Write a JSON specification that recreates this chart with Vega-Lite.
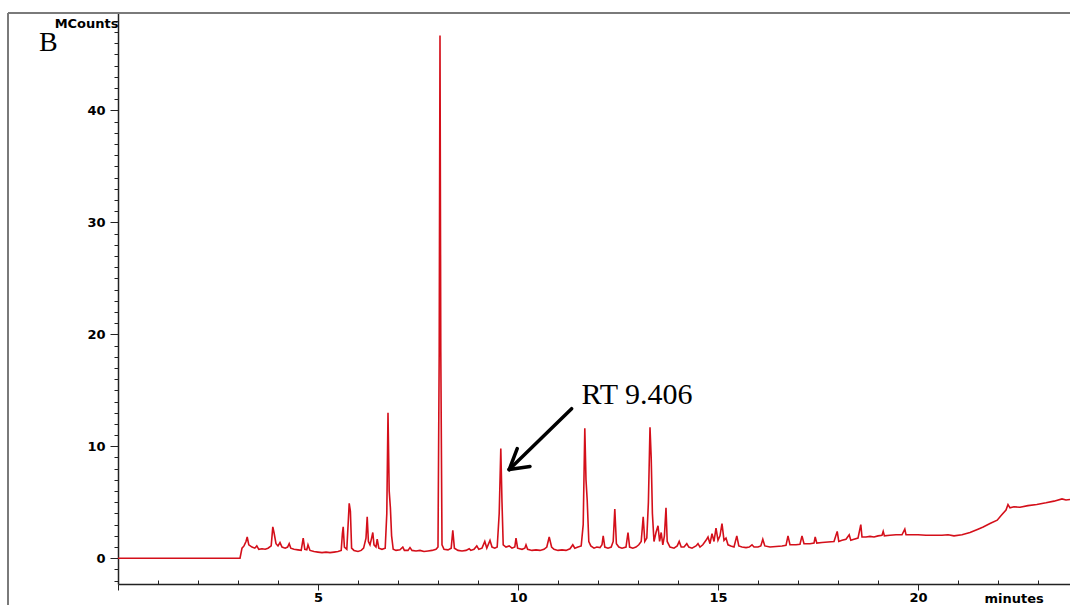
{
 "$schema": "https://vega.github.io/schema/vega-lite/v6.json",
 "width": 952, "height": 571,
 "autosize": {"type": "none"},
 "padding": {"left": 118, "top": 13, "right": 0, "bottom": 21},
 "background": "white",
 "config": {"view": {"stroke": null}, "font": "DejaVu Sans"},
 "datasets": {
  "trace": [
   {"t":0,"v":0},{"t":3.05,"v":0},{"t":3.1,"v":0.9},{"t":3.15,"v":1.1},{"t":3.2,"v":1.5},{"t":3.23,"v":1.9},{"t":3.27,"v":1.2},{"t":3.35,"v":1.0},{"t":3.42,"v":0.9},{"t":3.47,"v":1.1},{"t":3.52,"v":0.8},{"t":3.6,"v":0.85},{"t":3.68,"v":0.8},{"t":3.75,"v":0.9},{"t":3.83,"v":1.1},{"t":3.87,"v":2.8},{"t":3.9,"v":2.3},{"t":3.95,"v":1.3},{"t":4.0,"v":1.1},{"t":4.05,"v":1.4},{"t":4.1,"v":1.0},{"t":4.18,"v":0.9},{"t":4.24,"v":1.0},{"t":4.28,"v":1.3},{"t":4.32,"v":0.9},{"t":4.4,"v":0.8},{"t":4.5,"v":0.75},{"t":4.58,"v":0.7},{"t":4.63,"v":1.8},{"t":4.67,"v":0.8},{"t":4.72,"v":0.75},{"t":4.75,"v":1.2},{"t":4.8,"v":0.7},{"t":4.9,"v":0.6},{"t":5.0,"v":0.55},{"t":5.1,"v":0.5},{"t":5.2,"v":0.55},{"t":5.3,"v":0.5},{"t":5.4,"v":0.55},{"t":5.5,"v":0.6},{"t":5.58,"v":0.7},{"t":5.61,"v":2.2},{"t":5.63,"v":2.8},{"t":5.66,"v":1.0},{"t":5.72,"v":0.8},{"t":5.76,"v":3.5},{"t":5.78,"v":4.9},{"t":5.81,"v":4.2},{"t":5.84,"v":0.9},{"t":5.9,"v":0.7},{"t":6.0,"v":0.6},{"t":6.08,"v":0.7},{"t":6.14,"v":0.9},{"t":6.2,"v":1.8},{"t":6.23,"v":3.7},{"t":6.26,"v":1.5},{"t":6.3,"v":1.2},{"t":6.34,"v":1.8},{"t":6.37,"v":2.3},{"t":6.4,"v":1.2},{"t":6.45,"v":1.0},{"t":6.48,"v":1.7},{"t":6.52,"v":0.9},{"t":6.6,"v":0.8},{"t":6.68,"v":0.9},{"t":6.72,"v":4.0},{"t":6.75,"v":13.0},{"t":6.78,"v":6.0},{"t":6.81,"v":4.5},{"t":6.84,"v":2.0},{"t":6.88,"v":0.8},{"t":6.95,"v":0.7},{"t":7.05,"v":0.75},{"t":7.12,"v":1.0},{"t":7.16,"v":0.7},{"t":7.25,"v":0.7},{"t":7.3,"v":0.95},{"t":7.35,"v":0.7},{"t":7.45,"v":0.65},{"t":7.55,"v":0.7},{"t":7.65,"v":0.6},{"t":7.75,"v":0.65},{"t":7.85,"v":0.7},{"t":7.95,"v":0.8},{"t":8.0,"v":1.0},{"t":8.03,"v":18.4},{"t":8.05,"v":46.7},{"t":8.07,"v":18.4},{"t":8.1,"v":1.2},{"t":8.15,"v":0.8},{"t":8.25,"v":0.75},{"t":8.33,"v":0.9},{"t":8.37,"v":2.5},{"t":8.41,"v":0.9},{"t":8.5,"v":0.7},{"t":8.6,"v":0.65},{"t":8.7,"v":0.7},{"t":8.78,"v":0.85},{"t":8.82,"v":0.7},{"t":8.9,"v":0.8},{"t":8.97,"v":1.1},{"t":9.02,"v":0.8},{"t":9.1,"v":0.9},{"t":9.17,"v":1.5},{"t":9.22,"v":0.9},{"t":9.3,"v":1.6},{"t":9.35,"v":1.0},{"t":9.42,"v":0.9},{"t":9.48,"v":1.0},{"t":9.53,"v":4.0},{"t":9.57,"v":9.8},{"t":9.6,"v":5.0},{"t":9.63,"v":1.2},{"t":9.7,"v":1.0},{"t":9.78,"v":1.1},{"t":9.85,"v":0.9},{"t":9.92,"v":1.0},{"t":9.95,"v":1.8},{"t":9.99,"v":0.9},{"t":10.1,"v":0.8},{"t":10.17,"v":0.9},{"t":10.2,"v":1.2},{"t":10.24,"v":0.8},{"t":10.35,"v":0.7},{"t":10.45,"v":0.75},{"t":10.55,"v":0.7},{"t":10.65,"v":0.8},{"t":10.72,"v":1.0},{"t":10.78,"v":1.9},{"t":10.84,"v":1.0},{"t":10.9,"v":0.8},{"t":11.0,"v":0.7},{"t":11.1,"v":0.75},{"t":11.2,"v":0.7},{"t":11.3,"v":0.85},{"t":11.37,"v":1.2},{"t":11.42,"v":0.9},{"t":11.5,"v":1.0},{"t":11.58,"v":1.1},{"t":11.63,"v":3.0},{"t":11.67,"v":11.6},{"t":11.7,"v":7.0},{"t":11.73,"v":5.2},{"t":11.77,"v":1.5},{"t":11.82,"v":1.1},{"t":11.9,"v":0.9},{"t":11.97,"v":1.0},{"t":12.05,"v":0.95},{"t":12.1,"v":1.2},{"t":12.13,"v":2.0},{"t":12.17,"v":1.0},{"t":12.25,"v":0.9},{"t":12.33,"v":1.0},{"t":12.38,"v":1.5},{"t":12.42,"v":4.4},{"t":12.46,"v":1.3},{"t":12.52,"v":1.0},{"t":12.6,"v":0.9},{"t":12.7,"v":1.0},{"t":12.75,"v":2.3},{"t":12.79,"v":1.0},{"t":12.87,"v":0.9},{"t":12.95,"v":1.0},{"t":13.02,"v":1.2},{"t":13.08,"v":1.5},{"t":13.13,"v":3.7},{"t":13.17,"v":1.5},{"t":13.22,"v":1.8},{"t":13.26,"v":5.0},{"t":13.3,"v":11.7},{"t":13.33,"v":9.0},{"t":13.36,"v":4.0},{"t":13.4,"v":1.5},{"t":13.45,"v":2.3},{"t":13.5,"v":2.9},{"t":13.54,"v":1.5},{"t":13.58,"v":2.3},{"t":13.62,"v":1.2},{"t":13.66,"v":2.0},{"t":13.7,"v":4.5},{"t":13.73,"v":1.5},{"t":13.8,"v":1.0},{"t":13.9,"v":0.9},{"t":13.98,"v":1.1},{"t":14.03,"v":1.5},{"t":14.08,"v":1.0},{"t":14.15,"v":1.0},{"t":14.22,"v":1.3},{"t":14.27,"v":1.0},{"t":14.35,"v":0.9},{"t":14.45,"v":1.1},{"t":14.5,"v":1.3},{"t":14.55,"v":1.0},{"t":14.62,"v":1.2},{"t":14.7,"v":1.6},{"t":14.75,"v":1.9},{"t":14.8,"v":1.3},{"t":14.85,"v":2.2},{"t":14.9,"v":1.5},{"t":14.95,"v":2.7},{"t":15.0,"v":1.6},{"t":15.05,"v":2.0},{"t":15.1,"v":3.1},{"t":15.15,"v":1.6},{"t":15.2,"v":1.8},{"t":15.25,"v":1.2},{"t":15.32,"v":1.1},{"t":15.4,"v":1.0},{"t":15.47,"v":2.0},{"t":15.52,"v":1.1},{"t":15.6,"v":1.0},{"t":15.7,"v":0.95},{"t":15.78,"v":1.0},{"t":15.85,"v":1.2},{"t":15.9,"v":1.0},{"t":16.0,"v":1.0},{"t":16.07,"v":1.1},{"t":16.12,"v":1.7},{"t":16.17,"v":1.1},{"t":16.3,"v":1.0},{"t":16.45,"v":1.05},{"t":16.6,"v":1.1},{"t":16.7,"v":1.15},{"t":16.75,"v":2.0},{"t":16.8,"v":1.2},{"t":16.95,"v":1.2},{"t":17.05,"v":1.25},{"t":17.1,"v":2.0},{"t":17.15,"v":1.3},{"t":17.3,"v":1.3},{"t":17.4,"v":1.35},{"t":17.43,"v":1.9},{"t":17.47,"v":1.35},{"t":17.6,"v":1.4},{"t":17.75,"v":1.45},{"t":17.9,"v":1.5},{"t":17.98,"v":2.4},{"t":18.02,"v":1.5},{"t":18.1,"v":1.6},{"t":18.2,"v":1.7},{"t":18.28,"v":2.1},{"t":18.32,"v":1.6},{"t":18.4,"v":1.7},{"t":18.5,"v":1.8},{"t":18.57,"v":3.0},{"t":18.6,"v":1.9},{"t":18.7,"v":1.9},{"t":18.8,"v":1.95},{"t":18.9,"v":1.9},{"t":19.0,"v":2.0},{"t":19.1,"v":2.05},{"t":19.13,"v":2.4},{"t":19.16,"v":2.0},{"t":19.3,"v":2.05},{"t":19.45,"v":2.1},{"t":19.6,"v":2.1},{"t":19.67,"v":2.6},{"t":19.7,"v":2.1},{"t":19.85,"v":2.1},{"t":20.0,"v":2.1},{"t":20.2,"v":2.05},{"t":20.4,"v":2.05},{"t":20.6,"v":2.05},{"t":20.75,"v":2.1},{"t":20.9,"v":2.0},{"t":21.1,"v":2.1},{"t":21.3,"v":2.3},{"t":21.5,"v":2.6},{"t":21.63,"v":2.8},{"t":21.8,"v":3.1},{"t":21.98,"v":3.4},{"t":22.1,"v":3.9},{"t":22.2,"v":4.3},{"t":22.25,"v":4.8},{"t":22.3,"v":4.5},{"t":22.4,"v":4.6},{"t":22.55,"v":4.55},{"t":22.75,"v":4.7},{"t":22.97,"v":4.8},{"t":23.2,"v":4.95},{"t":23.4,"v":5.1},{"t":23.6,"v":5.3},{"t":23.7,"v":5.2},{"t":23.8,"v":5.25}
  ],
  "arrow": [
   {"t":11.34,"v":13.36,"t2":9.78,"v2":7.92},
   {"t":9.78,"v":7.92,"t2":10.3,"v2":8.2},
   {"t":9.78,"v":7.92,"t2":9.98,"v2":9.79}
  ],
  "labels": [
   {"t":11.59,"v":13.81,"text":"RT 9.406"},
   {"t":-1.975,"v":45.27,"text":"B"}
  ],
  "frame": [
   {"t":-2.75,"v":-4.3,"t2":-2.75,"v2":48.7},
   {"t":-2.75,"v":48.7,"t2":23.8,"v2":48.7}
  ]
 },
 "layer": [
  {
   "data": {"name": "trace"},
   "mark": {"type": "line", "color": "#d40f1a", "strokeWidth": 1.6, "clip": true},
   "encoding": {
    "x": {"field": "t", "type": "quantitative", "title": "minutes",
     "scale": {"domain": [0, 23.8], "nice": false, "zero": false},
     "axis": {
      "values": [0,0.5,1,1.5,2,2.5,3,3.5,4,4.5,5,5.5,6,6.5,7,7.5,8,8.5,9,9.5,10,10.5,11,11.5,12,12.5,13,13.5,14,14.5,15,15.5,16,16.5,17,17.5,18,18.5,19,19.5,20,20.5,21,21.5,22,22.5,23,23.5],
      "tickCount": 200,
      "format": "d",
      "labelExpr": "datum.value % 5 === 0 && datum.value > 0 ? datum.label : ''",
      "labelOverlap": false,
      "labelFontWeight": "bold", "labelFontSize": 13, "labelColor": "black", "labelPadding": 1,
      "tickSize": {"condition": {"test": "datum.value % 5 === 0", "value": 6}, "value": -4},
      "tickColor": "#222", "tickWidth": 1,
      "domainColor": "#222", "domainWidth": 1.5,
      "grid": false,
      "titleFontWeight": "bold", "titleFontSize": 13, "titleColor": "black",
      "titleX": 866, "titleY": 14, "titleAlign": "left", "titleBaseline": "middle"
     }
    },
    "y": {"field": "v", "type": "quantitative", "title": "MCounts",
     "scale": {"domain": [-2.3, 48.7], "nice": false, "zero": false},
     "axis": {
      "values": [-2,-1,0,1,2,3,4,5,6,7,8,9,10,11,12,13,14,15,16,17,18,19,20,21,22,23,24,25,26,27,28,29,30,31,32,33,34,35,36,37,38,39,40,41,42,43,44,45,46,47,48],
      "tickCount": 200,
      "format": "d",
      "labelExpr": "datum.value % 10 === 0 ? datum.label : ''",
      "labelOverlap": false,
      "labelFontWeight": "bold", "labelFontSize": 13, "labelColor": "black", "labelPadding": 5,
      "tickSize": {"condition": {"test": "datum.value % 10 === 0", "value": 8}, "value": 4},
      "tickColor": "#222", "tickWidth": 1,
      "domainColor": "#222", "domainWidth": 1.5,
      "grid": false,
      "titleAngle": 0, "titleFontWeight": "bold", "titleFontSize": 13, "titleColor": "black",
      "titleX": 0, "titleY": 10, "titleAlign": "right", "titleBaseline": "middle"
     }
    }
   }
  },
  {
   "data": {"name": "frame"},
   "mark": {"type": "rule", "color": "#7a7a7a", "strokeWidth": 2, "clip": false},
   "encoding": {
    "x": {"field": "t", "type": "quantitative", "title": "minutes"},
    "y": {"field": "v", "type": "quantitative", "title": "MCounts"},
    "x2": {"field": "t2"},
    "y2": {"field": "v2"}
   }
  },
  {
   "data": {"name": "arrow"},
   "mark": {"type": "rule", "color": "black", "strokeWidth": 3.5, "strokeCap": "round", "clip": false},
   "encoding": {
    "x": {"field": "t", "type": "quantitative", "title": "minutes"},
    "y": {"field": "v", "type": "quantitative", "title": "MCounts"},
    "x2": {"field": "t2"},
    "y2": {"field": "v2"}
   }
  },
  {
   "data": {"name": "labels"},
   "mark": {"type": "text", "font": "Liberation Serif", "fontSize": 30, "align": "left", "baseline": "alphabetic", "color": "black", "clip": false},
   "encoding": {
    "x": {"field": "t", "type": "quantitative", "title": "minutes"},
    "y": {"field": "v", "type": "quantitative", "title": "MCounts"},
    "text": {"field": "text"},
    "size": {"condition": {"test": "datum.text === 'B'", "value": 28}, "value": 30}
   }
  }
 ]
}
